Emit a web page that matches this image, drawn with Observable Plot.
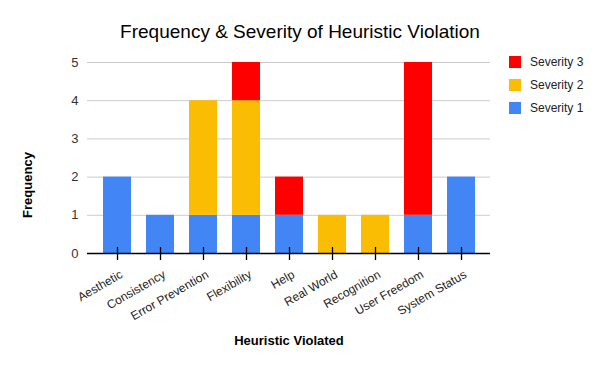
<!DOCTYPE html>
<html>
<head>
<meta charset="utf-8">
<script src="https://cdn.jsdelivr.net/npm/d3@7"></script>
<script src="https://cdn.jsdelivr.net/npm/@observablehq/plot@0.6"></script>
<style>
  body { margin: 0; background: #fff; font-family: "Liberation Sans", Arial, sans-serif; }
  #wrap { position: relative; width: 600px; height: 371px; }
  #title { position: absolute; left: 0; width: 600px; top: 21px; text-align: center; font-size: 19px; line-height: 22px; color: #000; }
  #legend { position: absolute; left: 509px; top: 56px; font-size: 12px; color: #222; }
  .item { display: flex; align-items: center; height: 12px; margin-bottom: 11px; }
  .sw { width: 12px; height: 12px; margin-right: 9px; }
</style>
</head>
<body>
<div id="wrap">
  <div id="chart"></div>
  <div id="title"></div>
  <div id="legend"></div>
</div>
<script>
const titleText = "Frequency & Severity of Heuristic Violation";
const xLabel = "Heuristic Violated";
const yLabel = "Frequency";
const categories = ["Aesthetic", "Consistency", "Error Prevention", "Flexibility", "Help", "Real World", "Recognition", "User Freedom", "System Status"];
const seriesNames = ["Severity 1", "Severity 2", "Severity 3"];
const severity1 = [2, 1, 1, 1, 1, 0, 0, 1, 2];
const severity2 = [0, 0, 3, 3, 0, 1, 1, 0, 0];
const severity3 = [0, 0, 0, 1, 1, 0, 0, 4, 0];
const colors = ["#4285F4", "#FBBC04", "#FF0000"];
const yTicks = [0, 1, 2, 3, 4, 5];

const seriesValues = [severity1, severity2, severity3];
const data = [];
seriesNames.forEach((s, i) => {
  categories.forEach((c, j) => data.push({category: c, series: s, value: seriesValues[i][j]}));
});

const chart = Plot.plot({
  width: 600,
  height: 371,
  marginLeft: 87,
  marginRight: 110,
  marginTop: 62,
  marginBottom: 118,
  style: {fontFamily: "'Liberation Sans', Arial, sans-serif", background: "#fff"},
  x: {domain: categories, padding: 0.35},
  y: {domain: [0, 5]},
  color: {domain: seriesNames, range: colors},
  marks: [
    Plot.gridY(yTicks, {stroke: "#ccc", strokeOpacity: 1, strokeWidth: 1}),
    Plot.barY(data, {x: "category", y: "value", fill: "series"}),
    Plot.ruleY([0], {stroke: "#000", strokeWidth: 1.5}),
    Plot.axisY(yTicks, {tickSize: 0, tickPadding: 9, fontSize: 13, color: "#333", label: null}),
    Plot.axisX({tickSize: 13, dy: -6, tickFormat: () => "", label: null, stroke: "#000", strokeWidth: 1.3}),
    Plot.axisX({tickSize: 7, tickRotate: -30, tickPadding: 13, dx: 4, fontSize: 12, color: "#222", label: null, strokeOpacity: 0}),
    Plot.text([yLabel], {frameAnchor: "left", dx: -60, dy: 27, rotate: -90, textAnchor: "middle", fontSize: 13, fontWeight: "bold", fill: "#000", text: d => d}),
    Plot.text([xLabel], {frameAnchor: "bottom", dy: 91, fontSize: 13, fontWeight: "bold", fill: "#000", text: d => d})
  ]
});
document.getElementById("chart").appendChild(chart);
document.getElementById("title").textContent = titleText;

const legend = document.getElementById("legend");
[...seriesNames].reverse().forEach(s => {
  const item = document.createElement("div");
  item.className = "item";
  const sw = document.createElement("div");
  sw.className = "sw";
  sw.style.background = colors[seriesNames.indexOf(s)];
  const label = document.createElement("span");
  label.textContent = s;
  item.appendChild(sw);
  item.appendChild(label);
  legend.appendChild(item);
});
</script>
</body>
</html>
